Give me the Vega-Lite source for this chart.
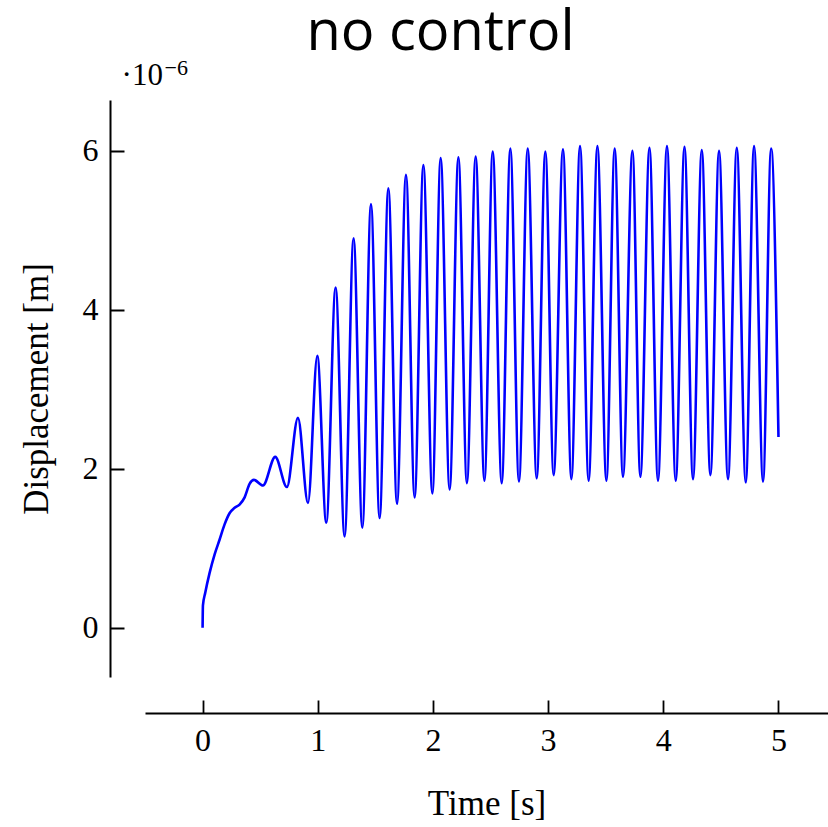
{
  "$schema": "https://vega.github.io/schema/vega-lite/v6.json",
  "width": 683,
  "height": 577,
  "autosize": {"type": "none"},
  "padding": {"left": 145, "top": 100, "right": 0, "bottom": 150},
  "background": "white",
  "title": {"text": "no control", "font": "Open Sans", "fontSize": 56, "fontWeight": "normal", "color": "black", "anchor": "middle", "dx": -46, "offset": -49, "baseline": "alphabetic"},
  "config": {"view": {"stroke": null}},
  "resolve": {"axis": {"x": "independent", "y": "independent"}},
  "layer": [
    {
      "data": {"values": [
        {"t": 0, "d": 0}, {"t": 0.003, "d": 0.28}, {"t": 0.023, "d": 0.44}, {"t": 0.061, "d": 0.69},
        {"t": 0.104, "d": 0.92}, {"t": 0.148, "d": 1.11}, {"t": 0.191, "d": 1.30}, {"t": 0.234, "d": 1.44},
        {"t": 0.278, "d": 1.51}, {"t": 0.321, "d": 1.55}, {"t": 0.365, "d": 1.64}, {"t": 0.408, "d": 1.81},
        {"t": 0.446, "d": 1.86}, {"t": 0.524, "d": 1.79}, {"t": 0.631, "d": 2.15}, {"t": 0.732, "d": 1.77},
        {"t": 0.828, "d": 2.64}, {"t": 0.915, "d": 1.57}, {"t": 0.996, "d": 3.42}, {"t": 1.074, "d": 1.32},
        {"t": 1.155, "d": 4.28}, {"t": 1.233, "d": 1.15}, {"t": 1.311, "d": 4.90}, {"t": 1.387, "d": 1.26},
        {"t": 1.462, "d": 5.33}, {"t": 1.537, "d": 1.38}, {"t": 1.613, "d": 5.53}, {"t": 1.688, "d": 1.56},
        {"t": 1.766, "d": 5.70}, {"t": 1.841, "d": 1.64}, {"t": 1.917, "d": 5.82}, {"t": 1.995, "d": 1.69},
        {"t": 2.067, "d": 5.91}, {"t": 2.145, "d": 1.74}, {"t": 2.221, "d": 5.92}, {"t": 2.295, "d": 1.82},
        {"t": 2.371, "d": 5.93}, {"t": 2.447, "d": 1.85}, {"t": 2.519, "d": 5.99}, {"t": 2.597, "d": 1.82},
        {"t": 2.672, "d": 6.03}, {"t": 2.747, "d": 1.84}, {"t": 2.823, "d": 6.03}, {"t": 2.901, "d": 1.88},
        {"t": 2.976, "d": 5.99}, {"t": 3.048, "d": 1.92}, {"t": 3.129, "d": 6.02}, {"t": 3.202, "d": 1.87},
        {"t": 3.277, "d": 6.06}, {"t": 3.352, "d": 1.85}, {"t": 3.428, "d": 6.06}, {"t": 3.506, "d": 1.85},
        {"t": 3.578, "d": 6.03}, {"t": 3.650, "d": 1.90}, {"t": 3.732, "d": 6.00}, {"t": 3.801, "d": 1.90},
        {"t": 3.880, "d": 6.04}, {"t": 3.954, "d": 1.85}, {"t": 4.032, "d": 6.06}, {"t": 4.108, "d": 1.85},
        {"t": 4.184, "d": 6.05}, {"t": 4.258, "d": 1.87}, {"t": 4.334, "d": 6.01}, {"t": 4.409, "d": 1.92},
        {"t": 4.484, "d": 6.00}, {"t": 4.562, "d": 1.87}, {"t": 4.638, "d": 6.04}, {"t": 4.716, "d": 1.83},
        {"t": 4.788, "d": 6.06}, {"t": 4.866, "d": 1.84}, {"t": 4.936, "d": 6.03}, {"t": 5.0, "d": 2.40}
      ]},
      "mark": {"type": "line", "interpolate": "monotone", "color": "#0000ff", "strokeWidth": 2.6},
      "encoding": {
        "x": {
          "field": "t", "type": "quantitative",
          "scale": {"domain": [-0.5, 5.43], "nice": false, "zero": false},
          "axis": {
            "orient": "bottom", "title": "Time [s]", "values": [0, 1, 2, 3, 4, 5], "format": "d", "offset": 36,
            "ticks": false, "domainColor": "black", "domainWidth": 2, "grid": false,
            "labelFont": "Liberation Serif", "labelFontSize": 32, "labelColor": "black", "labelPadding": 12,
            "titleFont": "Liberation Serif", "titleFontSize": 35, "titleFontWeight": "normal", "titleColor": "black", "titlePadding": 30
          }
        },
        "y": {
          "field": "d", "type": "quantitative",
          "scale": {"domain": [-0.62, 6.64], "nice": false, "zero": false},
          "axis": {
            "orient": "left", "title": "Displacement [m]", "values": [0, 2, 4, 6], "format": "d", "offset": 21,
            "domain": false, "ticks": true, "tickSize": 14, "tickWidth": 2, "tickColor": "black", "tickOpacity": 1, "grid": false,
            "labelFont": "Liberation Serif", "labelFontSize": 32, "labelColor": "black", "labelPadding": 12,
            "titleFont": "Liberation Serif", "titleFontSize": 35, "titleFontWeight": "normal", "titleColor": "black", "titlePadding": 28
          }
        }
      }
    },
    {
      "data": {"values": [{}]},
      "mark": {"type": "text", "font": "Liberation Serif", "fontSize": 31, "align": "left", "baseline": "alphabetic", "color": "black"},
      "encoding": {
        "x": {"datum": -0.703, "type": "quantitative", "scale": {"domain": [-0.5, 5.43], "nice": false, "zero": false}, "axis": null},
        "y": {"datum": 6.83, "type": "quantitative", "scale": {"domain": [-0.62, 6.64], "nice": false, "zero": false}, "axis": null},
        "text": {"value": "·10"}
      }
    },
    {
      "data": {"values": [{}]},
      "mark": {"type": "text", "font": "Liberation Serif", "fontSize": 22, "align": "left", "baseline": "alphabetic", "color": "black"},
      "encoding": {
        "x": {
          "datum": -0.33, "type": "quantitative", "scale": {"domain": [-0.5, 5.43], "nice": false, "zero": false},
          "axis": {"orient": "bottom", "title": null, "values": [0, 1, 2, 3, 4, 5], "offset": 23, "domain": false, "labels": false, "grid": false, "ticks": true, "tickSize": 13, "tickWidth": 1.8, "tickColor": "black"}
        },
        "y": {
          "datum": 6.956, "type": "quantitative", "scale": {"domain": [-0.62, 6.64], "nice": false, "zero": false},
          "axis": {"orient": "left", "title": null, "values": [0, 2, 4, 6], "offset": 35, "domain": true, "domainColor": "black", "domainWidth": 2, "labels": false, "grid": false, "ticks": false}
        },
        "text": {"value": "−6"}
      }
    }
  ]
}
